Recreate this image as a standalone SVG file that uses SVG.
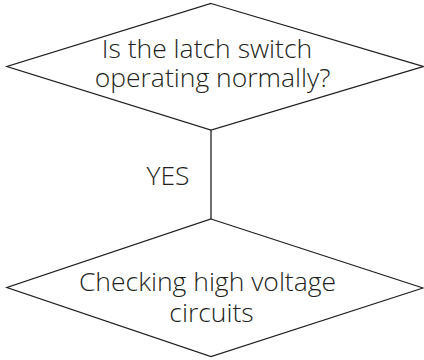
<svg xmlns="http://www.w3.org/2000/svg" width="424" height="360" viewBox="0 0 424 360">
<style>
.shape{fill:none;stroke:#231f20;stroke-width:1.3;stroke-linejoin:miter}
.lbl{font-family:"Open Sans","Noto Sans",sans-serif;font-weight:350;font-size:26.5px;fill:#231f20;text-anchor:middle}
</style>
<rect width="424" height="360" fill="#ffffff"/>
<g id="connectors">
<line class="shape" x1="211" y1="130" x2="211" y2="219"/>
<text class="lbl" x="168" y="185">YES</text>
</g>
<g id="node-latch">
<polygon class="shape" points="211,3.5 423,66.5 211,130 7,66.5"/>
<text class="lbl" x="207" y="57.5">Is the latch switch</text>
<text class="lbl" x="212.5" y="87">operating normally?</text>
</g>
<g id="node-hv">
<polygon class="shape" points="211,219 423,288 211,356.5 7,287.5"/>
<text class="lbl" x="207.5" y="290.5">Checking high voltage</text>
<text class="lbl" x="211.5" y="321.5">circuits</text>
</g>
</svg>
